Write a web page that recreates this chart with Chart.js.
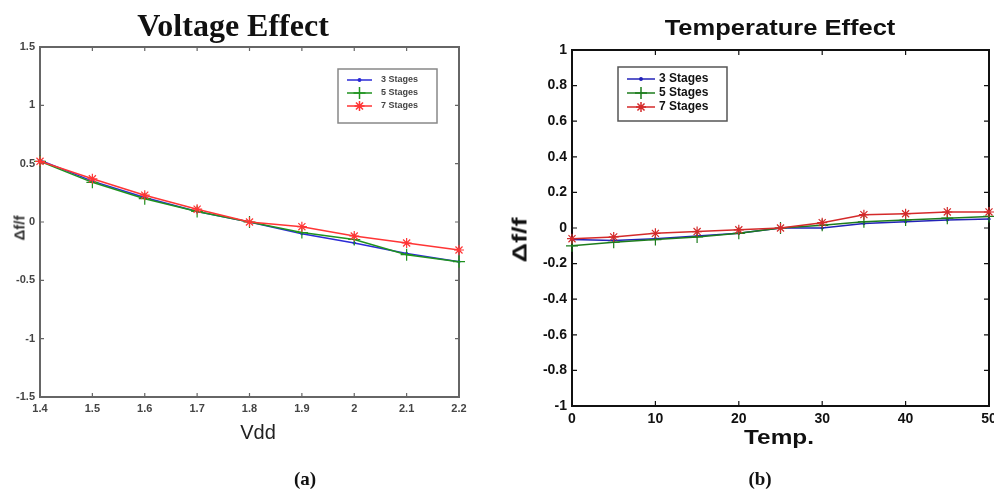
<!DOCTYPE html>
<html>
<head>
<meta charset="utf-8">
<script src="https://cdn.jsdelivr.net/npm/chart.js@4/dist/chart.umd.min.js"></script>
<style>
body { margin:0; width:994px; height:491px; background:#fff; overflow:hidden; position:relative; font-family:Arial, "Liberation Sans", sans-serif; }
.box { position:absolute; }
.lbl { position:absolute; transform:translate(-50%,-50%); white-space:nowrap; }
</style>
</head>
<body>
<div class="box" style="left:0;top:0;width:497px;height:440px"><canvas id="voltChart"></canvas></div>
<div class="box" style="left:497px;top:0;width:530px;height:440px"><canvas id="tempChart"></canvas></div>

<div class="lbl" style="left:233px;top:25px;font:bold 32px 'Liberation Serif',serif;color:#111">Voltage Effect</div>
<div class="lbl" style="left:19px;top:228px;font:bold 15px Arial,sans-serif;color:#333;transform:translate(-50%,-50%) rotate(-90deg)">Δf/f</div>
<div class="lbl" style="left:258px;top:432px;font:20px Arial,sans-serif;color:#222">Vdd</div>
<div class="lbl" style="left:305px;top:479px;font:bold 19px 'Liberation Serif',serif;color:#111">(a)</div>

<div class="lbl" style="left:780px;top:28px;font:bold 22px Arial,sans-serif;color:#111;transform:translate(-50%,-50%) scaleX(1.16)">Temperature Effect</div>
<div class="lbl" style="left:520px;top:240px;font:bold 20px Arial,sans-serif;color:#111;transform:translate(-50%,-50%) rotate(-90deg) scaleX(1.35)">Δf/f</div>
<div class="lbl" style="left:779px;top:437px;font:bold 21px Arial,sans-serif;color:#111;transform:translate(-50%,-50%) scaleX(1.16)">Temp.</div>
<div class="lbl" style="left:760px;top:479px;font:bold 19px 'Liberation Serif',serif;color:#111">(b)</div>

<script>
// Voltage effect (a)
const vddValues = [1.4, 1.5, 1.6, 1.7, 1.8, 1.9, 2.0, 2.1, 2.2];
const voltStage3 = [0.53, 0.35, 0.21, 0.09, 0, -0.10, -0.18, -0.27, -0.34];
const voltStage5 = [0.52, 0.34, 0.20, 0.09, 0, -0.09, -0.15, -0.28, -0.34];
const voltStage7 = [0.52, 0.37, 0.23, 0.11, 0, -0.04, -0.12, -0.18, -0.24];
const voltXTicks = [1.4, 1.5, 1.6, 1.7, 1.8, 1.9, 2, 2.1, 2.2];
const voltYTicks = [-1.5, -1, -0.5, 0, 0.5, 1, 1.5];

// Temperature effect (b)
const tempValues = [0, 5, 10, 15, 20, 25, 30, 35, 40, 45, 50];
const tempStage3 = [-0.065, -0.07, -0.06, -0.045, -0.03, 0, 0.0, 0.025, 0.035, 0.045, 0.05];
const tempStage5 = [-0.10, -0.08, -0.065, -0.05, -0.03, 0, 0.015, 0.035, 0.045, 0.055, 0.065];
const tempStage7 = [-0.06, -0.05, -0.03, -0.02, -0.01, 0, 0.03, 0.075, 0.08, 0.09, 0.09];
const tempXTicks = [0, 10, 20, 30, 40, 50];
const tempYTicks = [-1, -0.8, -0.6, -0.4, -0.2, 0, 0.2, 0.4, 0.6, 0.8, 1];

const seriesLabels = ['3 Stages', '5 Stages', '7 Stages'];

function toPoints(xs, ys) {
    return xs.map((x, i) => ({ x: x, y: ys[i] }));
}

function markerPoint(ctx, style, radius, x, y) {
    if (Chart.helpers && Chart.helpers.drawPoint) {
        Chart.helpers.drawPoint(ctx, { pointStyle: style, radius: radius, borderWidth: 1, rotation: 0 }, x, y);
    }
}

// box + inward ticks, matlab style
const framePlugin = {
    id: 'frame',
    beforeDatasetsDraw(chart, args, opts) {
        const ctx = chart.ctx;
        const a = chart.chartArea;
        const sx = chart.scales.x, sy = chart.scales.y;
        ctx.save();
        ctx.strokeStyle = opts.color;
        ctx.lineWidth = opts.width;
        ctx.strokeRect(a.left, a.top, a.right - a.left, a.bottom - a.top);
        ctx.lineWidth = 1.2;
        ctx.beginPath();
        sx.ticks.forEach(t => {
            const px = sx.getPixelForValue(t.value);
            ctx.moveTo(px, a.bottom); ctx.lineTo(px, a.bottom - opts.tick);
            ctx.moveTo(px, a.top); ctx.lineTo(px, a.top + opts.tick);
        });
        sy.ticks.forEach(t => {
            const py = sy.getPixelForValue(t.value);
            ctx.moveTo(a.left, py); ctx.lineTo(a.left + opts.tick, py);
            ctx.moveTo(a.right, py); ctx.lineTo(a.right - opts.tick, py);
        });
        ctx.stroke();
        ctx.restore();
    }
};

const boxLegend = {
    id: 'boxLegend',
    afterDraw(chart, args, o) {
        const ctx = chart.ctx;
        ctx.save();
        ctx.fillStyle = '#fff';
        ctx.fillRect(o.x, o.y, o.w, o.h);
        ctx.strokeStyle = o.border;
        ctx.lineWidth = 1.5;
        ctx.strokeRect(o.x, o.y, o.w, o.h);
        const sets = chart.data.datasets;
        seriesLabels.forEach((label, i) => {
            const ds = sets[i];
            const y = o.y + o.first + i * o.gap;
            ctx.strokeStyle = ds.borderColor;
            ctx.fillStyle = ds.borderColor;
            ctx.lineWidth = ds.borderWidth;
            ctx.beginPath();
            ctx.moveTo(o.x + o.line0, y);
            ctx.lineTo(o.x + o.line1, y);
            ctx.stroke();
            markerPoint(ctx, ds.pointStyle, ds.pointRadius, o.x + (o.line0 + o.line1) / 2, y);
            ctx.fillStyle = o.color;
            ctx.font = o.font;
            ctx.textBaseline = 'middle';
            ctx.fillText(label, o.x + o.textX, y);
        });
        ctx.restore();
    }
};

function makeSets(xs, ys3, ys5, ys7, colors) {
    return [
        { label: seriesLabels[0], data: toPoints(xs, ys3), borderColor: colors[0], backgroundColor: colors[0],
          borderWidth: 1.5, pointStyle: 'circle', pointRadius: 1.2, pointBorderWidth: 1, order: 2, clip: false },
        { label: seriesLabels[1], data: toPoints(xs, ys5), borderColor: colors[1], backgroundColor: colors[1],
          borderWidth: 1.5, pointStyle: 'cross', pointRadius: 6, pointBorderWidth: 1.2, order: 1, clip: false },
        { label: seriesLabels[2], data: toPoints(xs, ys7), borderColor: colors[2], backgroundColor: colors[2],
          borderWidth: 1.5, pointStyle: 'star', pointRadius: 5, pointBorderWidth: 1.2, order: 0, clip: false }
    ];
}

function makeChart(id, cfg) {
    const ctx = document.getElementById(id).getContext('2d');
    return new Chart(ctx, {
        type: 'line',
        data: { datasets: makeSets(cfg.xs, cfg.s3, cfg.s5, cfg.s7, cfg.colors) },
        options: {
            responsive: true,
            maintainAspectRatio: false,
            animation: false,
            layout: { padding: cfg.padding },
            plugins: {
                legend: { display: false },
                tooltip: { enabled: false },
                frame: cfg.frame,
                boxLegend: cfg.legend
            },
            scales: {
                x: {
                    type: 'linear', min: cfg.xTicks[0], max: cfg.xTicks[cfg.xTicks.length - 1],
                    afterBuildTicks: s => { s.ticks = cfg.xTicks.map(v => ({ value: v })); },
                    afterFit: s => { s.height = cfg.xHeight; },
                    grid: { display: false, drawTicks: false },
                    border: { display: false },
                    ticks: { autoSkip: false, maxRotation: 0, padding: cfg.xPad, color: cfg.tickColor, font: cfg.tickFont,
                             callback: v => String(v) }
                },
                y: {
                    type: 'linear', min: cfg.yTicks[0], max: cfg.yTicks[cfg.yTicks.length - 1],
                    afterBuildTicks: s => { s.ticks = cfg.yTicks.map(v => ({ value: v })); },
                    afterFit: s => { s.width = cfg.yWidth; },
                    grid: { display: false, drawTicks: false },
                    border: { display: false },
                    ticks: { autoSkip: false, padding: cfg.yPad, color: cfg.tickColor, font: cfg.tickFont,
                             callback: v => String(v) }
                }
            }
        },
        plugins: [framePlugin, boxLegend]
    });
}

makeChart('voltChart', {
    xs: vddValues, s3: voltStage3, s5: voltStage5, s7: voltStage7,
    colors: ['#2b2bd6', '#1f921f', '#ff3535'],
    xTicks: voltXTicks, yTicks: voltYTicks,
    padding: { left: 0, top: 47, right: 38, bottom: 0 },
    xHeight: 43, yWidth: 40, xPad: 5, yPad: 5,
    tickColor: '#444', tickFont: { family: 'Arial', size: 11, weight: 'bold' },
    frame: { color: '#666', width: 2, tick: 4 },
    legend: { x: 338, y: 69, w: 99, h: 54, border: '#888', first: 11, gap: 13, line0: 9, line1: 34,
              textX: 43, color: '#444', font: 'bold 9px Arial' }
});

makeChart('tempChart', {
    xs: tempValues, s3: tempStage3, s5: tempStage5, s7: tempStage7,
    colors: ['#2222b8', '#1d7d1d', '#d42a2a'],
    xTicks: tempXTicks, yTicks: tempYTicks,
    padding: { left: 0, top: 50, right: 38, bottom: 0 },
    xHeight: 34, yWidth: 75, xPad: 5, yPad: 5,
    tickColor: '#111', tickFont: { family: 'Arial', size: 14, weight: 'bold' },
    frame: { color: '#111', width: 2, tick: 5 },
    legend: { x: 121, y: 67, w: 109, h: 54, border: '#555', first: 12, gap: 14, line0: 9, line1: 37,
              textX: 41, color: '#111', font: 'bold 12px Arial' }
});
</script>
</body>
</html>
